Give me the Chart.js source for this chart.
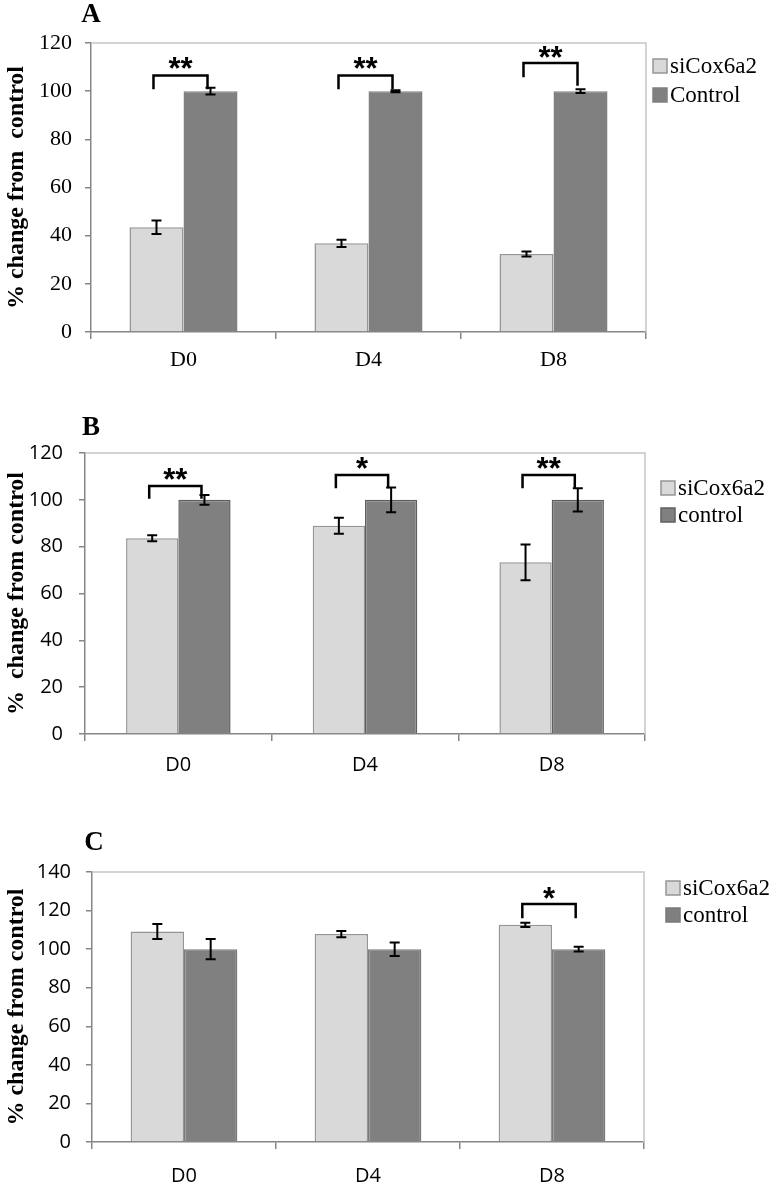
<!DOCTYPE html>
<html>
<head>
<meta charset="utf-8">
<script src="https://cdn.jsdelivr.net/npm/chart.js@4.4.1/dist/chart.umd.min.js"></script>
<style>
  body { margin: 0; background: #fff; }
  canvas { display: block; }
</style>
</head>
<body>
<canvas id="chartA" width="771" height="380"></canvas>
<canvas id="chartB" width="771" height="400"></canvas>
<canvas id="chartC" width="771" height="403"></canvas>
<script>
// categories and values
const categories = ["D0", "D4", "D8"];

const siA = [43.5, 36.8, 32.4];
const siAErr = [2.8, 1.5, 1.0];
const ctlA = [100, 100, 100];
const ctlAErr = [1.4, 0.4, 0.8];

const siB = [83.6, 88.9, 73.3];
const siBErr = [1.3, 3.4, 7.6];
const ctlB = [100, 100, 100];
const ctlBErr = [2.1, 5.3, 5.0];

const siC = [109.1, 107.8, 112.6];
const siCErr = [3.9, 1.6, 1.1];
const ctlC = [100, 100, 100];
const ctlCErr = [5.3, 3.5, 1.2];

const yTicksAB = [0, 20, 40, 60, 80, 100, 120];
const yTicksC = [0, 20, 40, 60, 80, 100, 120, 140];

// significance brackets: category, bracket top, leg ends, star label
const sigA = [
  { cat: 0, top: 106.5, left: 100.8, right: 100.8, label: "**", labelAt: 112 },
  { cat: 1, top: 106.5, left: 100.8, right: 100.8, label: "**", labelAt: 112 },
  { cat: 2, top: 111.7, left: 105.8, right: 102.3, label: "**", labelAt: 116.8 }
];
const sigB = [
  { cat: 0, top: 105.9, left: 100.5, right: 100.5, label: "**", labelAt: 111.5 },
  { cat: 1, top: 110.6, left: 105.0, right: 105.0, label: "*", labelAt: 116 },
  { cat: 2, top: 110.6, left: 105.0, right: 105.0, label: "**", labelAt: 116 }
];
const sigC = [
  { cat: 2, top: 123.4, left: 116, right: 116, label: "*", labelAt: 129.6 }
];

const SERIF = "'Liberation Serif', 'Times New Roman', serif";
const SANS = "'Open Sans', 'Liberation Sans', sans-serif";

const decoPlugin = {
  id: "deco",
  afterDatasetsDraw(chart) {
    const o = chart.options.plugins.deco;
    const ctx = chart.ctx;
    const y = chart.scales.y;
    const area = chart.chartArea;
    ctx.save();

    // light frame on top and right
    ctx.strokeStyle = "#c6c6c6";
    ctx.lineWidth = 1.5;
    ctx.beginPath();
    ctx.moveTo(area.left, area.top);
    ctx.lineTo(area.right, area.top);
    ctx.lineTo(area.right, area.bottom);
    ctx.stroke();

    // error bars
    ctx.strokeStyle = "#000";
    ctx.lineWidth = 2;
    chart.data.datasets.forEach(function (ds, i) {
      const meta = chart.getDatasetMeta(i);
      meta.data.forEach(function (bar, j) {
        const v = ds.data[j], e = ds.errors[j];
        const y1 = y.getPixelForValue(v + e), y2 = y.getPixelForValue(v - e);
        ctx.beginPath();
        ctx.moveTo(bar.x, y1); ctx.lineTo(bar.x, y2);
        ctx.moveTo(bar.x - 5, y1); ctx.lineTo(bar.x + 5, y1);
        ctx.moveTo(bar.x - 5, y2); ctx.lineTo(bar.x + 5, y2);
        ctx.stroke();
      });
    });

    // brackets
    const m0 = chart.getDatasetMeta(0), m1 = chart.getDatasetMeta(1);
    ctx.lineWidth = 2.5;
    ctx.fillStyle = "#000";
    ctx.textAlign = "center";
    ctx.textBaseline = "alphabetic";
    ctx.font = "bold 31px 'Liberation Sans', sans-serif";
    o.brackets.forEach(function (b) {
      const xl = m0.data[b.cat].x - 3, xr = m1.data[b.cat].x - 3;
      const yt = y.getPixelForValue(b.top);
      ctx.beginPath();
      ctx.moveTo(xl, y.getPixelForValue(b.left));
      ctx.lineTo(xl, yt);
      ctx.lineTo(xr, yt);
      ctx.lineTo(xr, y.getPixelForValue(b.right));
      ctx.stroke();
      ctx.fillText(b.label, (xl + xr) / 2, y.getPixelForValue(b.labelAt) + 17);
    });

    // panel letter
    ctx.font = "bold 27px " + SERIF;
    ctx.textAlign = "center";
    ctx.textBaseline = "middle";
    ctx.fillText(o.letter, o.letterX, o.letterY);

    // legend
    ctx.font = "23px " + SERIF;
    ctx.textAlign = "left";
    chart.data.datasets.forEach(function (ds, i) {
      const ly = o.legendY + i * o.legendGap;
      ctx.fillStyle = ds.backgroundColor;
      ctx.fillRect(o.legendX, ly - 7, 14, 14);
      ctx.strokeStyle = ds.borderColor;
      ctx.lineWidth = 1.5;
      ctx.strokeRect(o.legendX, ly - 7, 14, 14);
      ctx.fillStyle = "#000";
      ctx.fillText(ds.label, o.legendX + 17, ly + 1);
    });
    ctx.restore();
  }
};

function makePanel(id, p) {
  const ctx = document.getElementById(id).getContext("2d");
  return new Chart(ctx, {
    type: "bar",
    data: {
      labels: categories,
      datasets: [
        {
          label: "siCox6a2",
          data: p.si,
          errors: p.siErr,
          backgroundColor: "#d9d9d9",
          borderColor: "#959595",
          borderWidth: 1.5,
          categoryPercentage: p.catPct,
          barPercentage: 1
        },
        {
          label: p.ctlLabel,
          data: p.ctl,
          errors: p.ctlErr,
          backgroundColor: "#808080",
          borderColor: p.ctlBorder,
          borderWidth: 1.5,
          categoryPercentage: p.catPct,
          barPercentage: 1
        }
      ]
    },
    options: {
      responsive: false,
      animation: false,
      layout: { padding: { left: 0, right: p.padRight, top: p.padTop, bottom: 0 } },
      plugins: {
        legend: { display: false },
        tooltip: { enabled: false },
        deco: p.deco
      },
      scales: {
        x: {
          afterFit: function (s) { s.height = p.xHeight; },
          border: { color: "#868686", width: 1.5 },
          grid: { drawOnChartArea: false, drawTicks: true, tickLength: 7, color: "#868686", lineWidth: 1.5 },
          ticks: { color: "#000", font: { family: p.tickFont, size: p.tickSize }, padding: p.xPad }
        },
        y: {
          min: 0,
          max: p.yTicks[p.yTicks.length - 1],
          afterFit: function (s) { s.width = p.left; },
          afterBuildTicks: function (s) { s.ticks = p.yTicks.map(function (v) { return { value: v }; }); },
          border: { color: "#868686", width: 1.5 },
          grid: { drawOnChartArea: false, drawTicks: true, tickLength: 6, color: "#868686", lineWidth: 1.5 },
          ticks: { color: "#000", font: { family: p.tickFont, size: p.tickSize }, padding: p.yPad },
          title: {
            display: true,
            text: p.yTitle,
            color: "#000",
            padding: { top: 2, bottom: 2 },
            font: { family: SERIF, size: 24, weight: "bold" }
          }
        }
      }
    },
    plugins: [decoPlugin]
  });
}

makePanel("chartA", {
  si: siA, siErr: siAErr, ctl: ctlA, ctlErr: ctlAErr,
  ctlLabel: "Control", ctlBorder: "#808080",
  yTicks: yTicksAB, catPct: 0.584,
  left: 91, padRight: 125, padTop: 43, xHeight: 48,
  tickFont: SERIF, tickSize: 22, xPad: 8, yPad: 13,
  yTitle: "% change from  control",
  deco: { letter: "A", letterX: 91, letterY: 15, legendX: 653, legendY: 66, legendGap: 29, brackets: sigA }
});

makePanel("chartB", {
  si: siB, siErr: siBErr, ctl: ctlB, ctlErr: ctlBErr,
  ctlLabel: "control", ctlBorder: "#5f5f5f",
  yTicks: yTicksAB, catPct: 0.56,
  left: 85, padRight: 126, padTop: 73, xHeight: 46,
  tickFont: SANS, tickSize: 20, xPad: 12, yPad: 16,
  yTitle: "%  change from control",
  deco: { letter: "B", letterX: 91, letterY: 48, legendX: 661, legendY: 108, legendGap: 27, brackets: sigB }
});

makePanel("chartC", {
  si: siC, siErr: siCErr, ctl: ctlC, ctlErr: ctlCErr,
  ctlLabel: "control", ctlBorder: "#7a7a7a",
  yTicks: yTicksC, catPct: 0.58,
  left: 92, padRight: 127, padTop: 92, xHeight: 41,
  tickFont: SANS, tickSize: 20, xPad: 15, yPad: 15,
  yTitle: "% change from control",
  deco: { letter: "C", letterX: 94, letterY: 63, legendX: 666, legendY: 108, legendGap: 27, brackets: sigC }
});
</script>
</body>
</html>
